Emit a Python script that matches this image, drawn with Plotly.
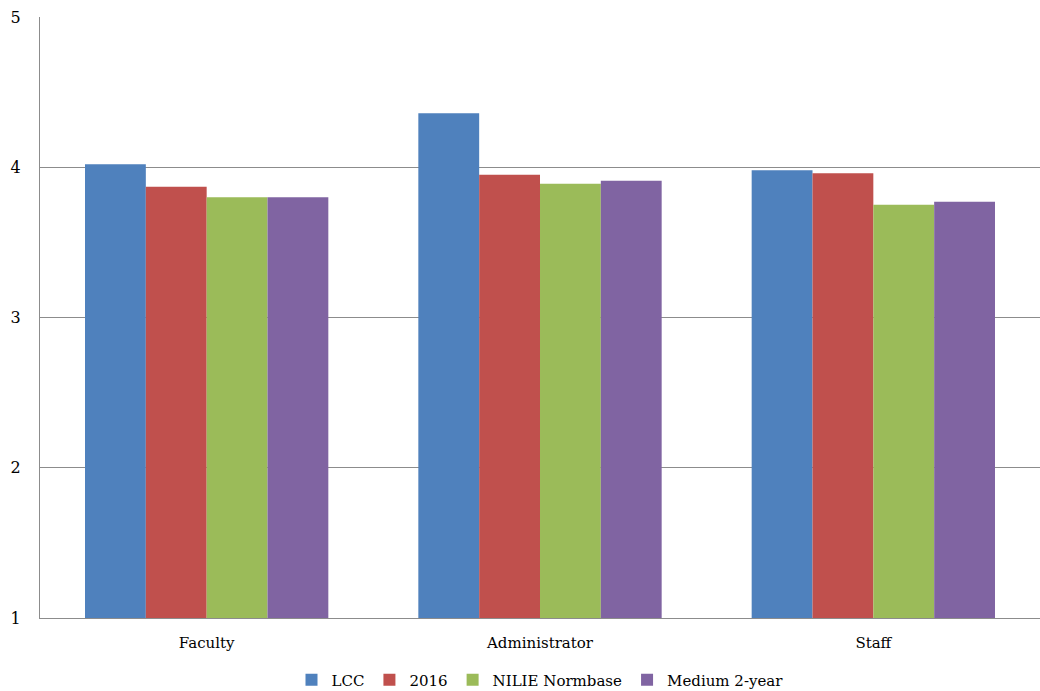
import plotly.graph_objects as go

categories = ["Faculty", "Administrator", "Staff"]
series_names = ["LCC", "2016", "NILIE Normbase", "Medium 2-year"]
lcc = [4.02, 4.36, 3.98]
y2016 = [3.87, 3.95, 3.96]
nilie = [3.80, 3.89, 3.75]
medium = [3.80, 3.91, 3.77]
colors = ["#4F81BD", "#C0504D", "#9BBB59", "#8064A2"]

SERIF = "DejaVu Serif"

fig = go.Figure()
for name, vals, col in zip(series_names, [lcc, y2016, nilie, medium], colors):
    fig.add_trace(go.Bar(x=categories, y=vals, name=name, marker_color=col,
                         marker_line_width=0))

fig.update_layout(
    width=1040, height=691,
    margin=dict(l=40, r=0, t=17, b=73, autoexpand=False),
    plot_bgcolor="white", paper_bgcolor="white",
    barmode="group", bargap=0.27, bargroupgap=0,
    font=dict(family=SERIF, size=15, color="#000"),
    showlegend=True,
    legend=dict(orientation="h", x=0.5, xanchor="center",
                yref="container", y=0.016, yanchor="middle",
                font=dict(family=SERIF, size=15), itemwidth=30,
                tracegroupgap=0, itemsizing="constant"),
)
fig.update_yaxes(range=[1, 5], dtick=1, showgrid=True, gridcolor="#8c8c8c",
                 gridwidth=1, showline=True, linecolor="#8c8c8c", ticks="",
                 ticklabelstandoff=15, zeroline=False,
                 tickfont=dict(family=SERIF, size=16))
fig.update_xaxes(showline=True, linecolor="#8c8c8c", ticks="", ticklabelstandoff=11,
                 tickfont=dict(family=SERIF, size=15))

fig.write_html("out.html")
